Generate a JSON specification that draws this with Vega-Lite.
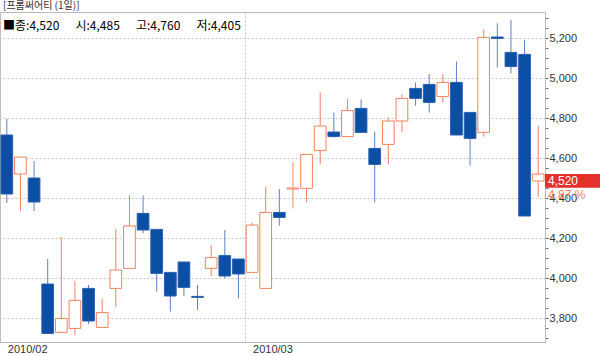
{
  "$schema": "https://vega.github.io/schema/vega-lite/v6.json",
  "width": 545,
  "height": 330,
  "autosize": {"type": "none"},
  "padding": {"top": 12, "left": 0, "right": 55, "bottom": 14},
  "background": "#ffffff",
  "config": {"view": {"stroke": "#bbbbbb"}, "font": "Liberation Sans"},
  "title": {
    "text": "[프롬써어티 (1일)]",
    "subtitle": "■종:4,520\u00a0\u00a0\u00a0\u00a0\u00a0\u00a0시:4,485\u00a0\u00a0\u00a0\u00a0\u00a0\u00a0고:4,760\u00a0\u00a0\u00a0\u00a0\u00a0\u00a0저:4,405",
    "anchor": "start",
    "frame": "group",
    "font": "Noto Sans CJK KR",
    "fontSize": 10,
    "fontWeight": "normal",
    "color": "#333333",
    "subtitleFont": "Noto Sans CJK KR",
    "subtitleFontSize": 12,
    "subtitleColor": "#000000",
    "subtitlePadding": 10,
    "offset": -20,
    "dx": 3
  },
  "datasets": {
    "ohlc": [
      {"d": "2010/02/02", "o": 4715, "h": 4795, "l": 4375, "c": 4420},
      {"d": "2010/02/03", "o": 4520, "h": 4605, "l": 4335, "c": 4605},
      {"d": "2010/02/04", "o": 4500, "h": 4585, "l": 4335, "c": 4380},
      {"d": "2010/02/05", "o": 3970, "h": 4095, "l": 3720, "c": 3723},
      {"d": "2010/02/08", "o": 3728, "h": 4205, "l": 3725, "c": 3798},
      {"d": "2010/02/09", "o": 3748, "h": 3985, "l": 3713, "c": 3888},
      {"d": "2010/02/10", "o": 3948, "h": 3965, "l": 3770, "c": 3785},
      {"d": "2010/02/11", "o": 3753, "h": 3895, "l": 3753, "c": 3827},
      {"d": "2010/02/12", "o": 3948, "h": 4245, "l": 3855, "c": 4040},
      {"d": "2010/02/16", "o": 4048, "h": 4415, "l": 4048, "c": 4260},
      {"d": "2010/02/17", "o": 4323, "h": 4413, "l": 4223, "c": 4240},
      {"d": "2010/02/18", "o": 4243, "h": 4243, "l": 3932, "c": 4023},
      {"d": "2010/02/19", "o": 4028, "h": 4028, "l": 3832, "c": 3910},
      {"d": "2010/02/22", "o": 4080, "h": 4080, "l": 3910, "c": 3953},
      {"d": "2010/02/23", "o": 3908, "h": 3965, "l": 3840, "c": 3903},
      {"d": "2010/02/24", "o": 4048, "h": 4165, "l": 4010, "c": 4102},
      {"d": "2010/02/25", "o": 4112, "h": 4240, "l": 3998, "c": 4010},
      {"d": "2010/02/26", "o": 4095, "h": 4095, "l": 3898, "c": 4020},
      {"d": "2010/03/02", "o": 4028, "h": 4277, "l": 4028, "c": 4265},
      {"d": "2010/03/03", "o": 3948, "h": 4457, "l": 3948, "c": 4328},
      {"d": "2010/03/04", "o": 4328, "h": 4445, "l": 4262, "c": 4303},
      {"d": "2010/03/05", "o": 4445, "h": 4578, "l": 4348, "c": 4450},
      {"d": "2010/03/08", "o": 4448, "h": 4618, "l": 4378, "c": 4618},
      {"d": "2010/03/09", "o": 4637, "h": 4928, "l": 4568, "c": 4760},
      {"d": "2010/03/10", "o": 4730, "h": 4827, "l": 4702, "c": 4707},
      {"d": "2010/03/11", "o": 4707, "h": 4895, "l": 4707, "c": 4838},
      {"d": "2010/03/12", "o": 4848, "h": 4893, "l": 4728, "c": 4728},
      {"d": "2010/03/15", "o": 4648, "h": 4732, "l": 4378, "c": 4568},
      {"d": "2010/03/16", "o": 4668, "h": 4803, "l": 4568, "c": 4785},
      {"d": "2010/03/17", "o": 4785, "h": 4918, "l": 4728, "c": 4898},
      {"d": "2010/03/18", "o": 4948, "h": 4978, "l": 4862, "c": 4898},
      {"d": "2010/03/19", "o": 4968, "h": 5020, "l": 4827, "c": 4878},
      {"d": "2010/03/22", "o": 4907, "h": 5020, "l": 4878, "c": 4978},
      {"d": "2010/03/23", "o": 4978, "h": 5082, "l": 4715, "c": 4715},
      {"d": "2010/03/24", "o": 4828, "h": 4828, "l": 4562, "c": 4698},
      {"d": "2010/03/25", "o": 4728, "h": 5243, "l": 4707, "c": 5203},
      {"d": "2010/03/26", "o": 5205, "h": 5273, "l": 5053, "c": 5198},
      {"d": "2010/03/29", "o": 5128, "h": 5290, "l": 5023, "c": 5057},
      {"d": "2010/03/30", "o": 5118, "h": 5190, "l": 4310, "c": 4310},
      {"d": "2010/03/31", "o": 4485, "h": 4760, "l": 4405, "c": 4520}
    ],
    "last": [
      {"d": "2010/03/31", "c": 4520, "pct": "4.87 %"}
    ]
  },
  "layer": [
    {
      "data": {"name": "ohlc"},
      "mark": {"type": "rule", "strokeWidth": 1},
      "encoding": {
        "x": {
          "field": "d", "type": "ordinal", "sort": null,
          "scale": {"paddingInner": 0, "paddingOuter": 0},
          "axis": {
            "title": null,
            "values": ["2010/02/02", "2010/03/02"],
            "bandPosition": 0,
            "labelExpr": "slice(datum.label, 0, 7)",
            "labelAngle": 0,
            "labelAlign": "left",
            "labelBaseline": "top",
            "labelPadding": 1,
            "labelOffset": 1,
            "labelFontSize": 11,
            "labelColor": "#333333",
            "labelFont": "Liberation Sans",
            "ticks": false,
            "domainColor": "#bbbbbb",
            "grid": true,
            "gridColor": "#c4c4c4",
            "gridDash": [2, 2]
          }
        },
        "y": {
          "field": "l", "type": "quantitative",
          "scale": {"domain": [3680, 5330], "nice": false, "zero": false},
          "axis": {
            "orient": "right",
            "title": null,
            "tickCount": 60,
            "values": [3700, 3750, 3800, 3850, 3900, 3950, 4000, 4050, 4100, 4150, 4200, 4250, 4300, 4350, 4400, 4450, 4500, 4550, 4600, 4650, 4700, 4750, 4800, 4850, 4900, 4950, 5000, 5050, 5100, 5150, 5200, 5250, 5300],
            "labelExpr": "datum.value % 200 === 0 ? format(datum.value, ',') : ''",
            "labelOverlap": false,
            "labelFontSize": 11,
            "labelColor": "#333333",
            "labelFont": "Liberation Sans",
            "labelPadding": 1,
            "tickSize": 3,
            "tickColor": "#666666",
            "domainColor": "#bbbbbb",
            "grid": true,
            "gridColor": "#c4c4c4",
            "gridDash": [2, 2],
            "gridOpacity": {"condition": {"test": "datum.value % 200 === 0", "value": 1}, "value": 0}
          }
        },
        "y2": {"field": "h"},
        "color": {
          "condition": {"test": "datum.c >= datum.o", "value": "#f4825c"},
          "value": "#5d80c6"
        }
      }
    },
    {
      "data": {"name": "ohlc"},
      "mark": {"type": "bar", "width": {"band": 0.86}, "strokeWidth": 1},
      "encoding": {
        "x": {"field": "d", "type": "ordinal", "sort": null},
        "y": {"field": "o", "type": "quantitative"},
        "y2": {"field": "c"},
        "fill": {
          "condition": {"test": "datum.c >= datum.o", "value": "#ffffff"},
          "value": "#0a4fa3"
        },
        "stroke": {
          "condition": {"test": "datum.c >= datum.o", "value": "#f4825c"},
          "value": "#2a5fb0"
        }
      }
    },
    {
      "data": {"name": "last"},
      "mark": {"type": "point", "shape": "M0,0H2V0.5H0Z", "filled": true, "size": 3025, "opacity": 1, "color": "#e4312b"},
      "encoding": {
        "x": {"field": "d", "type": "ordinal", "sort": null, "bandPosition": 1},
        "y": {"field": "c", "type": "quantitative"}
      }
    },
    {
      "data": {"name": "last"},
      "mark": {"type": "text", "align": "left", "baseline": "middle", "dx": 3, "dy": 7, "fontSize": 12, "font": "Liberation Sans", "color": "#ffffff"},
      "encoding": {
        "x": {"field": "d", "type": "ordinal", "sort": null, "bandPosition": 1},
        "y": {"field": "c", "type": "quantitative"},
        "text": {"field": "c", "type": "quantitative", "format": ","}
      }
    },
    {
      "data": {"name": "last"},
      "mark": {"type": "text", "align": "left", "baseline": "middle", "dx": 3, "dy": 21, "fontSize": 12, "font": "Liberation Sans", "color": "#f4825c"},
      "encoding": {
        "x": {"field": "d", "type": "ordinal", "sort": null, "bandPosition": 1},
        "y": {"field": "c", "type": "quantitative"},
        "text": {"field": "pct"}
      }
    }
  ]
}
